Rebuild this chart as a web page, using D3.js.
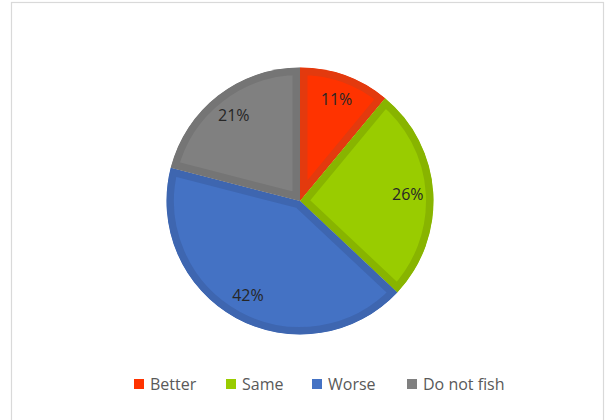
<!DOCTYPE html>
<html><head><meta charset="utf-8">
<script src="https://cdn.jsdelivr.net/npm/d3@7"></script>
<style>body{margin:0;background:#fff;}svg{display:block;}</style>
</head><body>
<script>
const categories = ["Better", "Same", "Worse", "Do not fish"];
const values = [11, 26, 42, 21];
const labels = ["11%", "26%", "42%", "21%"];
const fills = ["#FF3300", "#99CC00", "#4472C4", "#808080"];
const borders = ["#E33A0E", "#88B400", "#3E66B0", "#757575"];

const W = 605, H = 420;
const svg = d3.select("body").append("svg").attr("width", W).attr("height", H);
svg.append("rect").attr("x", 11.5).attr("y", 2.5).attr("width", 592).attr("height", 430)
  .attr("fill", "#fff").attr("stroke", "#D9D9D9").attr("stroke-width", 1.2);

const cx = 300, cy = 201, R = 133.5;
const pie = d3.pie().sort(null).value(d => d)(values);
const arc = d3.arc().innerRadius(0).outerRadius(R);
const g = svg.append("g").attr("transform", `translate(${cx},${cy})`);
const defs = svg.append("defs");
pie.forEach((p, i) => {
  defs.append("clipPath").attr("id", "c" + i).append("path").attr("d", arc(p));
  g.append("path").attr("d", arc(p)).attr("fill", fills[i])
    .attr("stroke", borders[i]).attr("stroke-width", 15).attr("stroke-linejoin", "miter")
    .attr("clip-path", `url(#c${i})`);
});
const labelArc = d3.arc().innerRadius(108).outerRadius(108);
pie.forEach((p, i) => {
  const [x, y] = labelArc.centroid(p);
  g.append("text").attr("x", x).attr("y", y).attr("dy", "0.35em").attr("text-anchor", "middle")
    .attr("font-family", "Open Sans, sans-serif").attr("font-size", 16).attr("fill", "#262626")
    .text(labels[i]);
});

const legend = svg.append("g");
const lx = [134, 226, 312, 407];
categories.forEach((c, i) => {
  legend.append("rect").attr("x", lx[i]).attr("y", 379).attr("width", 10).attr("height", 10).attr("fill", fills[i]);
  legend.append("text").attr("x", lx[i] + 16).attr("y", 384).attr("dy", "0.35em")
    .attr("font-family", "Open Sans, sans-serif").attr("font-size", 16).attr("fill", "#595959").text(c);
});
</script>
</body></html>
